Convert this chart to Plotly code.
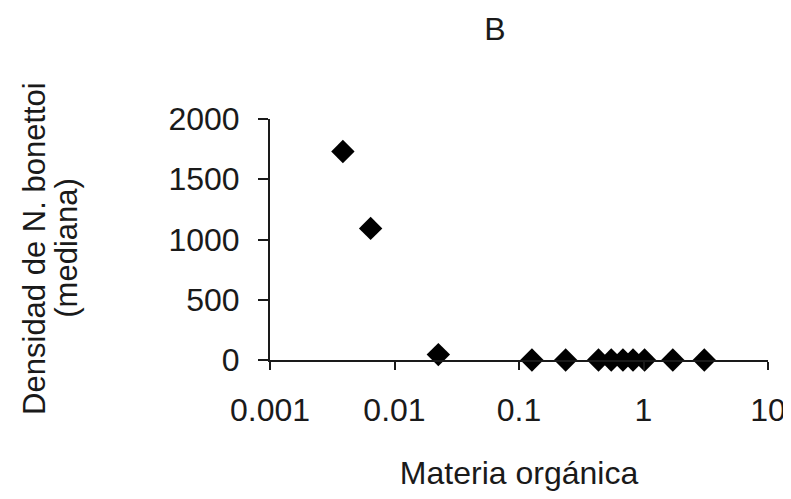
import plotly.graph_objects as go

# Data
materia_organica = [0.00385, 0.00643, 0.0225, 0.127, 0.237, 0.435, 0.551,
                    0.684, 0.824, 1.02, 1.72, 3.08]
densidad_mediana = [1730, 1092, 45, 0, 0, 0, 0, 0, 0, 0, 0, 0]

x_tickvals = [0.001, 0.01, 0.1, 1, 10]
x_ticktext = ["0.001", "0.01", "0.1", "1", "10"]
y_tickvals = [0, 500, 1000, 1500, 2000]
y_ticktext = ["0", "500", "1000", "1500", "2000"]
y_title_lines = ["Densidad de N. bonettoi", "(mediana)"]

FONT = "Liberation Sans, Arial, sans-serif"
INK = "#1a1a1a"

fig = go.Figure()
fig.add_trace(go.Scatter(
    x=materia_organica, y=densidad_mediana, mode="markers",
    marker=dict(symbol="diamond", size=18, color="black"),
    cliponaxis=False, showlegend=False,
))

fig.update_layout(
    width=791, height=499,
    margin=dict(l=262, r=31, t=111, b=147),
    paper_bgcolor="white", plot_bgcolor="white",
    font=dict(family=FONT, size=32, color=INK),
    title=dict(text="B", x=487/791, xref="container", xanchor="center",
               y=1 - 21/499, yref="container", yanchor="middle",
               font=dict(size=32, color=INK)),
)

fig.update_xaxes(
    type="log", range=[-3, 1],
    tickvals=x_tickvals, ticktext=x_ticktext,
    ticks="outside", ticklen=8, tickwidth=2, tickcolor=INK,
    showline=True, linecolor=INK, linewidth=2,
    showgrid=False, zeroline=False,
    ticklabelstandoff=13,
    tickfont=dict(size=32),
    title=dict(text="Materia orgánica", font=dict(size=32), standoff=34),
)
fig.update_yaxes(
    range=[0, 2000],
    tickvals=y_tickvals, ticktext=y_ticktext,
    ticks="outside", ticklen=10, tickwidth=2, tickcolor=INK,
    showline=True, linecolor=INK, linewidth=2,
    showgrid=False, zeroline=False,
    ticklabelstandoff=12,
    tickfont=dict(size=32),
)

# Y-axis title as two rotated lines (tighter line spacing as in the reference)
for txt, xp in zip(y_title_lines, [-0.472, -0.408]):
    fig.add_annotation(
        text=txt, textangle=-90, showarrow=False,
        xref="paper", yref="paper", x=xp, y=0.465,
        xanchor="center", yanchor="middle",
        font=dict(size=31, color=INK, family=FONT),
    )

fig.write_html("out.html")
